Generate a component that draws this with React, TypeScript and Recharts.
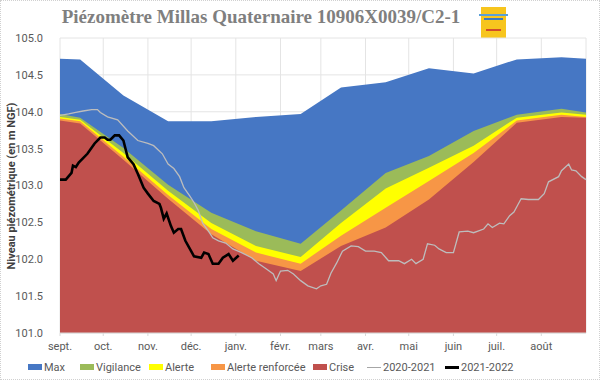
import { ComposedChart, Area, Line, XAxis, YAxis, CartesianGrid } from "recharts";

// threshold bands, read at mid-month (day 0 = 1 Sept)
const bandDays = [0, 14, 44, 75, 105, 136, 167, 195, 226, 256, 287, 317, 348, 365];
const maxLevel = [104.72, 104.71, 104.22, 103.87, 103.87, 103.93, 103.97, 104.33, 104.4, 104.59, 104.52, 104.71, 104.74, 104.72];
const vigilance = [103.97, 103.92, 103.51, 103.01, 102.63, 102.38, 102.21, 102.66, 103.17, 103.4, 103.74, 103.96, 104.04, 103.99];
const alerte = [103.93, 103.89, 103.44, 102.93, 102.49, 102.18, 102.03, 102.49, 102.96, 103.24, 103.54, 103.92, 103.99, 103.96];
const renforcee = [103.91, 103.87, 103.39, 102.87, 102.41, 102.09, 101.94, 102.32, 102.7, 103.06, 103.44, 103.88, 103.96, 103.93];
const crise = [103.88, 103.84, 103.35, 102.82, 102.34, 101.98, 101.84, 102.18, 102.43, 102.81, 103.32, 103.85, 103.93, 103.92];

// 2020-2021 chronicle
const greyDays = [0, 6, 11, 16, 22, 26, 28, 33, 40, 47, 54, 61, 65, 71, 75, 79, 83, 86, 90, 93, 96, 99, 103, 106, 110, 115, 120, 126, 133, 138, 143, 148, 150, 153, 158, 162, 167, 172, 178, 181, 185, 188, 192, 196, 202, 207, 212, 218, 223, 228, 235, 239, 244, 247, 252, 255, 260, 263, 268, 273, 277, 283, 287, 294, 297, 300, 305, 308, 312, 315, 318, 320, 325, 332, 336, 339, 346, 348, 353, 355, 358, 362, 365];
const greyLevel = [103.95, 103.97, 103.99, 104.01, 104.03, 104.03, 103.99, 103.93, 103.89, 103.74, 103.61, 103.57, 103.54, 103.43, 103.29, 103.23, 103.12, 102.97, 102.86, 102.77, 102.66, 102.49, 102.38, 102.29, 102.25, 102.22, 102.14, 102.09, 102.02, 101.94, 101.87, 101.8, 101.71, 101.84, 101.85, 101.8, 101.71, 101.64, 101.6, 101.64, 101.66, 101.81, 101.95, 102.11, 102.18, 102.17, 102.11, 102.11, 102.09, 101.98, 101.98, 101.94, 102.0, 101.94, 102.0, 102.21, 102.19, 102.14, 102.09, 102.09, 102.37, 102.38, 102.36, 102.41, 102.48, 102.43, 102.49, 102.48, 102.59, 102.64, 102.75, 102.82, 102.81, 102.81, 102.89, 103.05, 103.12, 103.2, 103.29, 103.21, 103.2, 103.12, 103.08];

// 2021-2022 chronicle
const blackDays = [0, 4, 8, 9, 11, 13, 19, 24, 28, 31, 33, 35, 38, 41, 44, 47, 51, 54, 58, 61, 65, 69, 70, 72, 74, 77, 79, 82, 84, 87, 91, 93, 98, 100, 103, 106, 110, 113, 117, 120, 124];
const blackLevel = [103.08, 103.08, 103.17, 103.27, 103.25, 103.31, 103.43, 103.57, 103.65, 103.65, 103.62, 103.62, 103.68, 103.68, 103.61, 103.38, 103.29, 103.16, 102.97, 102.89, 102.79, 102.75, 102.7, 102.55, 102.62, 102.45, 102.36, 102.41, 102.41, 102.25, 102.11, 102.04, 102.02, 102.09, 102.07, 101.94, 101.94, 102.02, 102.07, 101.98, 102.05];

const monthDays = [0, 30, 61, 91, 122, 153, 181, 212, 242, 273, 303, 334];
const monthLabels = ["sept.", "oct.", "nov.", "déc.", "janv.", "févr.", "mars", "avr.", "mai", "juin", "juil.", "août"];
const yTicks = [101, 101.5, 102, 102.5, 103, 103.5, 104, 104.5, 105];

const COLORS = {
  max: "#4677c4",
  vigilance: "#9bbb59",
  alerte: "#ffff00",
  renforcee: "#f79646",
  crise: "#c0504d",
  grey: "#bdbdbd",
  black: "#000000",
};

type Row = { day: number; [k: string]: number };

function buildRows(): Row[] {
  const map = new Map<number, Row>();
  const put = (day: number, key: string, v: number) => {
    const row = map.get(day) ?? { day };
    row[key] = v;
    map.set(day, row);
  };
  bandDays.forEach((d, i) => {
    put(d, "max", maxLevel[i]);
    put(d, "vigilance", vigilance[i]);
    put(d, "alerte", alerte[i]);
    put(d, "renforcee", renforcee[i]);
    put(d, "crise", crise[i]);
  });
  greyDays.forEach((d, i) => put(d, "y2020", greyLevel[i]));
  blackDays.forEach((d, i) => put(d, "y2021", blackLevel[i]));
  return [...map.values()].sort((a, b) => a.day - b.day);
}

const rows = buildRows();
const FONT = "'Liberation Sans Narrow', Roboto, 'Liberation Sans', sans-serif";

const legendItems = [
  { label: "Max", color: COLORS.max, x: 27, kind: "box" },
  { label: "Vigilance", color: COLORS.vigilance, x: 79, kind: "box" },
  { label: "Alerte", color: COLORS.alerte, x: 148, kind: "box" },
  { label: "Alerte renforcée", color: COLORS.renforcee, x: 210, kind: "box" },
  { label: "Crise", color: COLORS.crise, x: 312, kind: "box" },
  { label: "2020-2021", color: "#a6a6a6", x: 366, kind: "thin" },
  { label: "2021-2022", color: COLORS.black, x: 444, kind: "thick" },
];

export default function App() {
  return (
    <div
      style={{
        position: "absolute",
        left: 0,
        top: 0,
        width: 600,
        height: 380,
        background: "#fff",
        boxSizing: "border-box",
        border: "1px dotted #d0d0d0",
        fontFamily: FONT,
      }}
    >
      <div
        style={{
          position: "absolute",
          left: 0,
          width: 520,
          top: 5,
          textAlign: "center",
          fontFamily: "'Liberation Serif', 'DejaVu Serif', serif",
          fontWeight: "bold",
          fontSize: 19,
          color: "#7f7f7f",
          whiteSpace: "nowrap",
        }}
      >
        Piézomètre Millas Quaternaire 10906X0039/C2-1
      </div>
      <div
        style={{
          position: "absolute",
          left: 480,
          top: 6,
          width: 25,
          height: 31,
          background: "#f7c51e",
        }}
      >
        <div style={{ position: "absolute", left: -2, right: -2, top: 7, height: 2, background: "#5aa0d8" }} />
        <div style={{ position: "absolute", left: 3, right: 3, top: 11, height: 2, background: "#3b78c0" }} />
        <div style={{ position: "absolute", left: 5, right: 5, top: 22, height: 2, background: "#d24b2b" }} />
      </div>
      <div
        style={{
          position: "absolute",
          left: 10,
          top: 185,
          transform: "translate(-50%, -50%) rotate(-90deg)",
          fontSize: 11,
          fontWeight: "bold",
          color: "#404040",
          whiteSpace: "nowrap",
        }}
      >
        Niveau piézométrique (en m NGF)
      </div>
      <div style={{ position: "absolute", left: 0, top: 0 }}>
        <ComposedChart
          width={600}
          height={380}
          data={rows}
          margin={{ top: 37, right: 15, bottom: 28, left: 0 }}
        >
          <CartesianGrid stroke="#e4e4e4" strokeWidth={1} />
          <XAxis
            dataKey="day"
            type="number"
            domain={[0, 365]}
            ticks={monthDays}
            tickFormatter={(d: number) => monthLabels[monthDays.indexOf(d)] ?? ""}
            height={20}
            tickSize={3}
            tickMargin={6}
            stroke="#d9d9d9"
            tick={{ fill: "#595959", fontSize: 11, fontFamily: FONT }}
            interval={0}
          />
          <YAxis
            type="number"
            domain={[101, 105]}
            ticks={yTicks}
            tickFormatter={(v: number) => v.toFixed(1)}
            width={59}
            tickSize={0}
            tickMargin={17}
            axisLine={false}
            tickLine={false}
            tick={{ fill: "#595959", fontSize: 11, fontFamily: FONT }}
          />
          <Area dataKey="max" type="linear" stroke="none" fill={COLORS.max} fillOpacity={1} connectNulls isAnimationActive={false} baseValue={101} />
          <Area dataKey="vigilance" type="linear" stroke="none" fill={COLORS.vigilance} fillOpacity={1} connectNulls isAnimationActive={false} baseValue={101} />
          <Area dataKey="alerte" type="linear" stroke="none" fill={COLORS.alerte} fillOpacity={1} connectNulls isAnimationActive={false} baseValue={101} />
          <Area dataKey="renforcee" type="linear" stroke="none" fill={COLORS.renforcee} fillOpacity={1} connectNulls isAnimationActive={false} baseValue={101} />
          <Area dataKey="crise" type="linear" stroke="none" fill={COLORS.crise} fillOpacity={1} connectNulls isAnimationActive={false} baseValue={101} />
          <Line dataKey="y2020" type="linear" stroke={COLORS.grey} strokeWidth={1.3} dot={false} connectNulls isAnimationActive={false} />
          <Line dataKey="y2021" type="linear" stroke={COLORS.black} strokeWidth={2.6} dot={false} connectNulls isAnimationActive={false} />
        </ComposedChart>
      </div>
      {legendItems.map((it) => (
        <div
          key={it.label}
          style={{
            position: "absolute",
            left: it.x,
            top: 358,
            height: 16,
            display: "flex",
            alignItems: "center",
            fontSize: 11,
            color: "#595959",
            whiteSpace: "nowrap",
          }}
        >
          <span
            style={{
              display: "inline-block",
              width: 14,
              height: it.kind === "box" ? 6 : it.kind === "thick" ? 3 : 1,
              background: it.color,
              marginRight: 2,
            }}
          />
          {it.label}
        </div>
      ))}
    </div>
  );
}
